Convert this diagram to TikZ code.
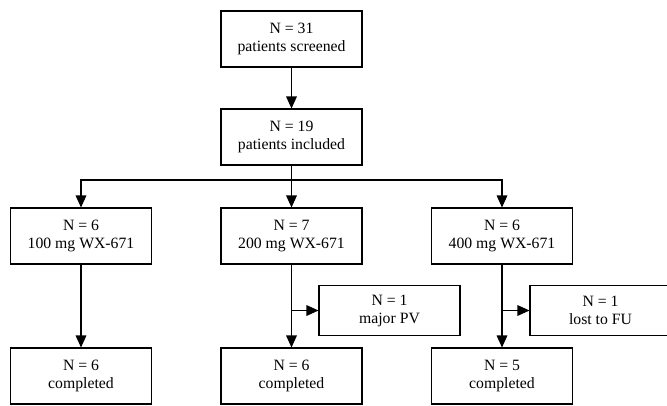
\documentclass[tikz,border=0pt]{standalone}
\usepackage{fontspec}
\setmainfont{Liberation Serif}
\usetikzlibrary{positioning,arrows.meta}

\begin{document}
\begin{tikzpicture}[x=0.75pt,y=-0.75pt,
  box/.style={draw,line width=0.8pt,minimum width=105.75pt,minimum height=42pt,inner sep=0pt,align=center,font=\fontsize{11.8}{13.5}\selectfont},
  sidebox/.style={box,minimum height=37.5pt},
  arr/.style={line width=0.8pt,-{Triangle[length=9pt,width=8pt]}}]
\useasboundingbox (0,0) rectangle (667,405);
\node[box] (scr) at (291.5,39) {N = 31\\patients screened};
\node[box] (inc) at (291.5,137) {N = 19\\patients included};
\node[box] (d100) at (81,236) {N = 6\\100 mg WX-671};
\node[box] (d200) at (291.5,236) {N = 7\\200 mg WX-671};
\node[box] (d400) at (502,236) {N = 6\\400 mg WX-671};
\node[sidebox] (pv) at (389.5,310.5) {N = 1\\major PV};
\node[sidebox] (fu) at (600.5,310.5) {N = 1\\lost to FU};
\node[box] (c100) at (81,376) {N = 6\\completed};
\node[box] (c200) at (291.5,376) {N = 6\\completed};
\node[box] (c400) at (502,376) {N = 5\\completed};
\coordinate (split) at (291.5,180);
% screening and split into dose groups
\draw[arr] (scr) -- (inc);
\draw[line width=0.8pt] (inc) -- (split);
\draw[arr] (split) -| (d100);
\draw[arr] (split) -- (d200);
\draw[arr] (split) -| (d400);
% follow up
\draw[arr] (d100) -- (c100);
\draw[arr] (d200) -- (c200);
\draw[arr] (d400) -- (c400);
\draw[arr] (d200.south |- pv.west) -- (pv.west);
\draw[arr] (d400.south |- fu.west) -- (fu.west);
\end{tikzpicture}
\end{document}
